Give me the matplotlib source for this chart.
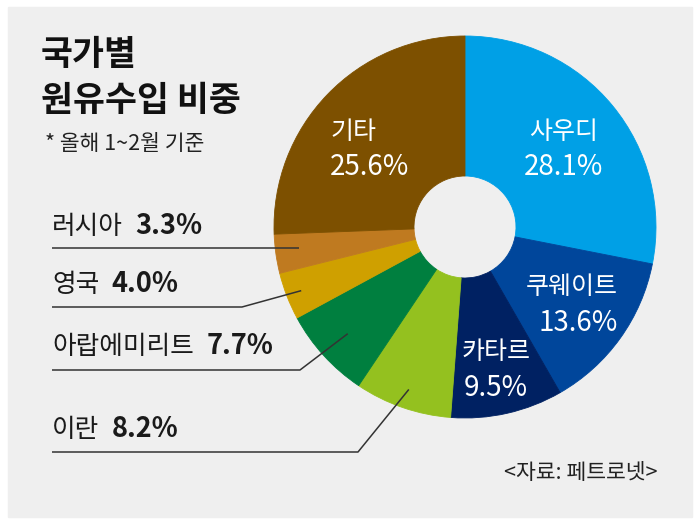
import numpy as np
import matplotlib.pyplot as plt
from matplotlib.patches import Rectangle

plt.rcParams['font.family'] = ['Noto Sans CJK KR', 'DejaVu Sans']

# 국가별 원유수입 비중 (올해 1~2월)
names = ['사우디', '쿠웨이트', '카타르', '이란', '아랍에미리트', '영국', '러시아', '기타']
shares = [28.1, 13.6, 9.5, 8.2, 7.7, 4.0, 3.3, 25.6]
colors = ['#00a0e6', '#00469b', '#002162', '#94c11f', '#007f3f', '#cfa000', '#bf7a20', '#7d5000']

W, H = 700, 523
cx, cy, R, hole = 465, 227, 191, 51

fig = plt.figure(figsize=(W / 100, H / 100), dpi=100)
fig.patch.set_facecolor('white')
fig.add_artist(Rectangle((8 / W, 1 - 517 / H), 684 / W, 510 / H,
                         transform=fig.transFigure, color='#efefef', zorder=0))

# 파이
ax = fig.add_axes([(cx - R) / W, 1 - (cy + R) / H, 2 * R / W, 2 * R / H])
ax.set_zorder(1)
ax.patch.set_alpha(0)
ax.pie(shares, colors=colors, startangle=90, counterclock=False, radius=1,
       wedgeprops=dict(width=1 - hole / R, linewidth=0.6))
for w, c in zip(ax.patches, colors):
    w.set_edgecolor(c)
ax.set_xlim(-1, 1)
ax.set_ylim(-1, 1)
ax.set_aspect('equal')

# 픽셀 좌표 오버레이
ov = fig.add_axes([0, 0, 1, 1])
ov.set_zorder(2)
ov.set_xlim(0, W)
ov.set_ylim(H, 0)
ov.axis('off')
ov.patch.set_alpha(0)

ov.text(41, 54, '국가별', fontsize=25, fontweight='bold', color='#111111', va='center')
ov.text(41, 100, '원유수입 비중', fontsize=25, fontweight='bold', color='#111111', va='center')
ov.text(45, 144, '* 올해 1~2월 기준', fontsize=15.5, color='#222222', va='center')
ov.text(658, 473, '<자료: 페트로넷>', fontsize=15.5, color='#222222', va='center', ha='right')

# 조각 안 라벨: (x, 이름 y, 비율 y, 정렬)
inside = {
    '사우디': (564, 132, 167, 'center'),
    '쿠웨이트': (618, 287, 323, 'right'),
    '카타르': (496, 352, 388, 'center'),
    '기타': (330, 132, 167, 'left'),
}
# 바깥 라벨: (이름 y, 선 y, 꺾이는 x, 지시점 반지름)
outside = {
    '러시아': (227, 248, None, 0.88),
    '영국': (285, 307, 242, 0.92),
    '아랍에미리트': (347, 370, 300, 0.83),
    '이란': (430, 452, 358, 0.90),
}

cum = np.concatenate([[0], np.cumsum(shares)])
for i, (name, val) in enumerate(zip(names, shares)):
    pct = f'{val:.1f}%'
    if name in inside:
        x, yn, yp, ha = inside[name]
        ov.text(x, yn, name, fontsize=18, color='white', ha=ha, va='center')
        ov.text(x, yp, pct, fontsize=20, color='white', ha=ha, va='center')
    else:
        yn, yl, ex, r = outside[name]
        t = ov.text(52, yn, name, fontsize=18.5, color='#1a1a1a', va='center')
        ov.annotate(pct, xy=(1, 0), xycoords=t, xytext=(9, 0), textcoords='offset points',
                    fontsize=19.5, fontweight='bold', color='#1a1a1a', va='bottom')
        ang = np.deg2rad(90 - 360 * (cum[i] + val / 2) / 100)
        axp = cx + R * r * np.cos(ang)
        ayp = cy - R * r * np.sin(ang)
        if ex is None:
            ex, ayp = axp, yl
        ov.plot([52, ex, axp], [yl, yl, ayp], color='#333333', lw=1.1,
                solid_capstyle='butt')

fig.savefig('out.png', dpi=100, facecolor=fig.get_facecolor())
